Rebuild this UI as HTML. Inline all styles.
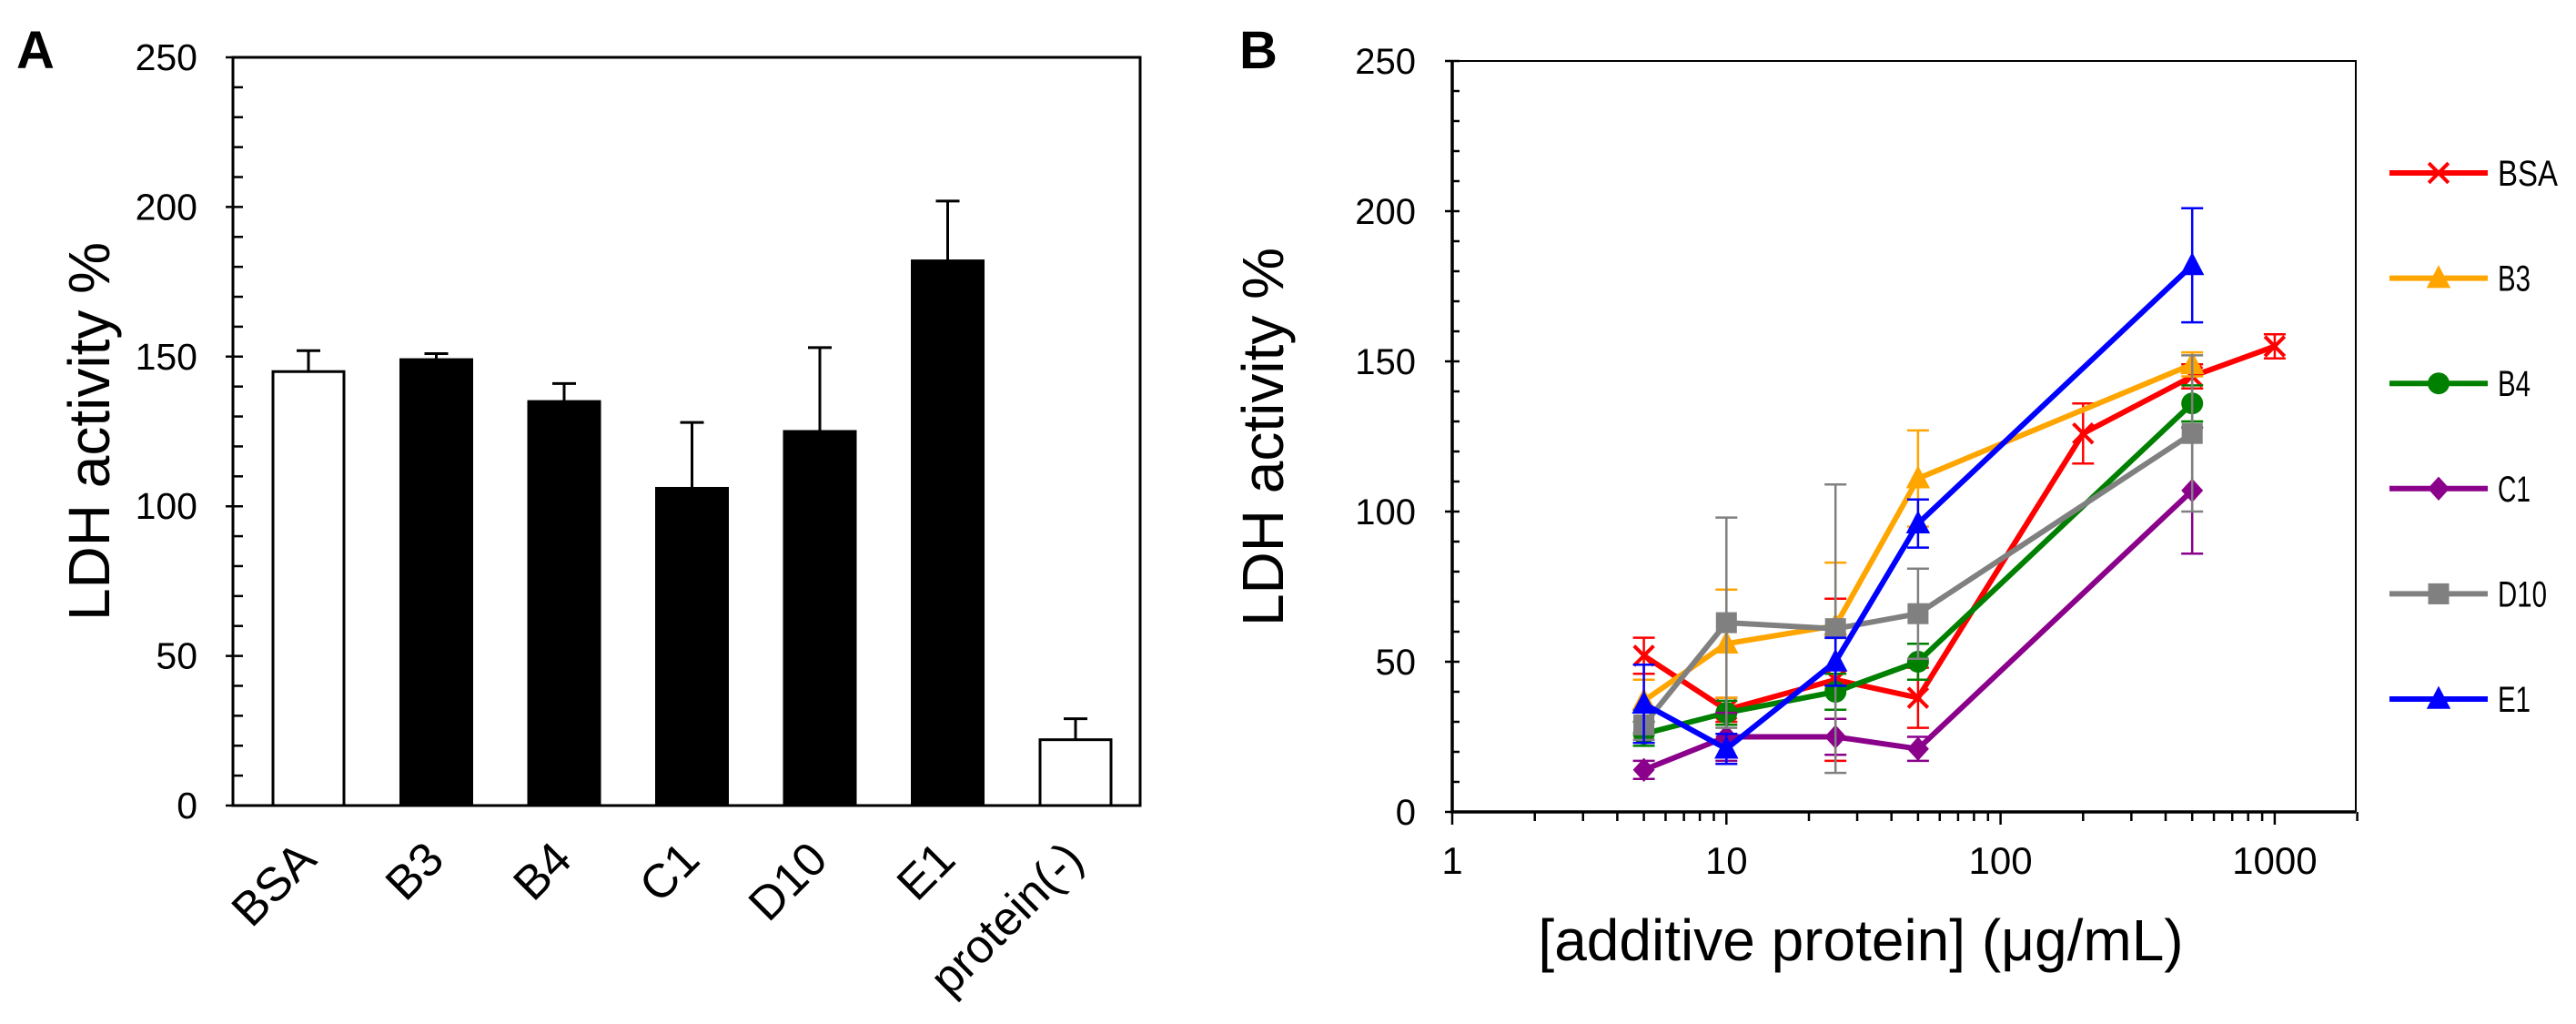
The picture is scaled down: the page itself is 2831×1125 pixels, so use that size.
<!DOCTYPE html>
<html><head><meta charset="utf-8"><style>
html,body{margin:0;padding:0;background:#fff;}
svg{display:block;font-family:"Liberation Sans",Arial,sans-serif;}
</style></head><body>
<svg id="fig" width="2831" height="1125" viewBox="0 0 2831 1125" xmlns="http://www.w3.org/2000/svg">
<g id="pa"></g>
<g id="pb"></g>
</svg>
<script>
// Panel A data
const catsA = ["BSA","B3","B4","C1","D10","E1","protein(-)"];
const valsA = [145,149,135,106,125,182,22];
const errA = [7,2,6,22,28,20,7];
const fillA = ["#fff","#000","#000","#000","#000","#000","#fff"];
const ticksA = [0,50,100,150,200,250];

// Panel B data
const xsB = [5,10,25,50,200,500,1000];
const namesB = ["BSA","B3","B4","C1","D10","E1"];
const colorsB = ["#ff0000","#ffa500","#008000","#8b008b","#808080","#0000ff"];
const markersB = ["x","tri","circle","diamond","square","tri"];
const bsaY = [52,34,44,38,126,145,155];
const bsaE = [6,4,27,10,10,4,4];
const b3Y = [37,56,62,111,null,149,null];
const b3E = [7,18,21,16,null,4,null];
const b4Y = [26,33,40,50,null,136,null];
const b4E = [4,4,6,6,null,6,null];
const c1Y = [14,25,25,21,null,107,null];
const c1E = [3,8,6,4,null,21,null];
const d10Y = [29,63,61,66,null,126,null];
const d10E = [5,35,48,15,null,26,null];
const e1Y = [36,21,50,96,null,182,null];
const e1E = [13,5,8,8,null,19,null];
const seriesY = [bsaY,b3Y,b4Y,c1Y,d10Y,e1Y];
const seriesE = [bsaE,b3E,b4E,c1E,d10E,e1E];
const ticksB = [0,50,100,150,200,250];
const xTicksB = [1,10,100,1000];

const NS="http://www.w3.org/2000/svg";
function mk(p,tag,at,txt){const e=document.createElementNS(NS,tag);for(const k in at)e.setAttribute(k,at[k]);if(txt!==undefined)e.textContent=txt;p.appendChild(e);return e;}

// ---- Panel A ----
const pa=document.getElementById('pa');
const A={x0:256,x1:1253,y0:885,y1:63};
const yA=v=>A.y0-(v/250)*(A.y0-A.y1);
const xA=i=>339+i*140.5;
let t=mk(pa,'text',{x:18,y:75,'font-size':58,'font-weight':'bold'},'A');


catsA.forEach((c,i)=>{
  const cx=xA(i),w=78;
  const b=mk(pa,'rect',{x:cx-w/2,y:yA(valsA[i]),width:w,height:yA(0)-yA(valsA[i]),fill:fillA[i],stroke:'#000','stroke-width':3});
  
  
  const top=yA(valsA[i]+errA[i]);
  const eb=mk(pa,'path',{d:`M${cx},${yA(valsA[i])}V${top}M${cx-13},${top}H${cx+13}`,stroke:'#000','stroke-width':3,fill:'none'});
  
  
  const lx=cx+11,ly=947;
  const tl=mk(pa,'text',{x:lx,y:ly,'font-size':52,'text-anchor':'end',transform:`rotate(-45 ${lx} ${ly})`},c);
  
  
});
mk(pa,'rect',{x:A.x0,y:A.y1,width:A.x1-A.x0,height:A.y0-A.y1,fill:'none',stroke:'#000','stroke-width':3});
for(let v=0;v<=250;v+=10){const y=yA(v);const maj=v%50===0;mk(pa,'line',{x1:maj?A.x0-8:A.x0,x2:A.x0+11,y1:y,y2:y,stroke:'#000','stroke-width':2.5});}
ticksA.forEach(v=>{const tt=mk(pa,'text',{x:217,y:yA(v)+14,'font-size':41,'text-anchor':'end'},v);
  
  });
t=mk(pa,'text',{x:120,y:474,'font-size':64,'text-anchor':'middle',transform:'rotate(-90 120 474)'},'LDH activity %');



// ---- Panel B ----
const pb=document.getElementById('pb');
const B={x0:1596,x1:2589,y0:892,y1:67};
const dec=301.3;
const xB=v=>B.x0+Math.log10(v)*dec;
const yB=v=>B.y0-(v/250)*(B.y0-B.y1);
t=mk(pb,'text',{x:1362,y:75,'font-size':58,'font-weight':'bold'},'B');


mk(pb,'path',{d:`M${B.x0},${B.y1}H${B.x1}V${B.y0}`,stroke:'#000','stroke-width':2,fill:'none'});
mk(pb,'path',{d:`M${B.x0},${B.y1}V${B.y0}H${B.x1}`,stroke:'#000','stroke-width':3.5,fill:'none'});
for(let v=0;v<=250;v+=10){const y=yB(v);const maj=v%50===0;mk(pb,'line',{x1:maj?B.x0-8:B.x0,x2:B.x0+8,y1:y,y2:y,stroke:'#000','stroke-width':2.5});}
ticksB.forEach(v=>{const tt=mk(pb,'text',{x:B.x0-40,y:yB(v)+14,'font-size':40,'text-anchor':'end'},v);
  
  });
for(let d=1;d<=1000;d*=10){for(let k=1;k<10;k++){const v=d*k;if(v>2000)break;const x=xB(v);mk(pb,'line',{x1:x,x2:x,y1:B.y0,y2:B.y0+(k===1?14:10),stroke:'#000','stroke-width':2.5});}}
xTicksB.forEach(v=>{const tt=mk(pb,'text',{x:xB(v),y:960,'font-size':42,'text-anchor':'middle'},v);
  
  });
t=mk(pb,'text',{x:2045,y:1055,'font-size':64,'text-anchor':'middle'},'[additive protein] (\u03bcg/mL)');


t=mk(pb,'text',{x:1410,y:480,'font-size':64,'text-anchor':'middle',transform:'rotate(-90 1410 480)'},'LDH activity %');



function marker(g,type,x,y,col,s){
  if(type==='x')return mk(g,'path',{d:`M${x-s*0.45},${y-s*0.45}L${x+s*0.45},${y+s*0.45}M${x-s*0.45},${y+s*0.45}L${x+s*0.45},${y-s*0.45}`,stroke:col,'stroke-width':4});
  if(type==='tri')return mk(g,'path',{d:`M${x},${y-s*0.6}L${x+s*0.55},${y+s*0.45}L${x-s*0.55},${y+s*0.45}Z`,fill:col});
  if(type==='circle')return mk(g,'circle',{cx:x,cy:y,r:s*0.5,fill:col});
  if(type==='diamond')return mk(g,'path',{d:`M${x},${y-s*0.55}L${x+s*0.5},${y}L${x},${y+s*0.55}L${x-s*0.5},${y}Z`,fill:col});
  return mk(g,'rect',{x:x-s*0.48,y:y-s*0.48,width:s*0.96,height:s*0.96,fill:col});
}
namesB.forEach((n,si)=>{
  const g=mk(pb,'g',{});
  
  
  const col=colorsB[si],Y=seriesY[si],E=seriesE[si];
  xsB.forEach((xv,i)=>{if(Y[i]==null)return;const x=xB(xv),a=yB(Y[i]+E[i]),b=yB(Y[i]-E[i]);
    const eb=mk(g,'path',{d:`M${x},${a}V${b}M${x-12},${a}H${x+12}M${x-12},${b}H${x+12}`,stroke:col,'stroke-width':2.5,fill:'none'});
    
    });
  let d='';xsB.forEach((xv,i)=>{if(Y[i]==null)return;d+=(d?'L':'M')+xB(xv)+','+yB(Y[i]);});
  const ln=mk(g,'path',{d:d,stroke:col,'stroke-width':6,fill:'none','stroke-linejoin':'round'});
  
  
  xsB.forEach((xv,i)=>{if(Y[i]==null)return;const m=marker(g,markersB[si],xB(xv),yB(Y[i]),col,24);
    
    });
  const ly=190+si*115.6;
  const lg=mk(pb,'g',{});
  
  
  mk(lg,'line',{x1:2626,x2:2734,y1:ly,y2:ly,stroke:col,'stroke-width':6});
  marker(lg,markersB[si],2680,ly,col,24);
  mk(lg,'text',{x:2745,y:ly+14,'font-size':40,textLength:n.length*18+(n==='BSA'?12:0),lengthAdjust:'spacingAndGlyphs'},n);
});
</script>
</body></html>
